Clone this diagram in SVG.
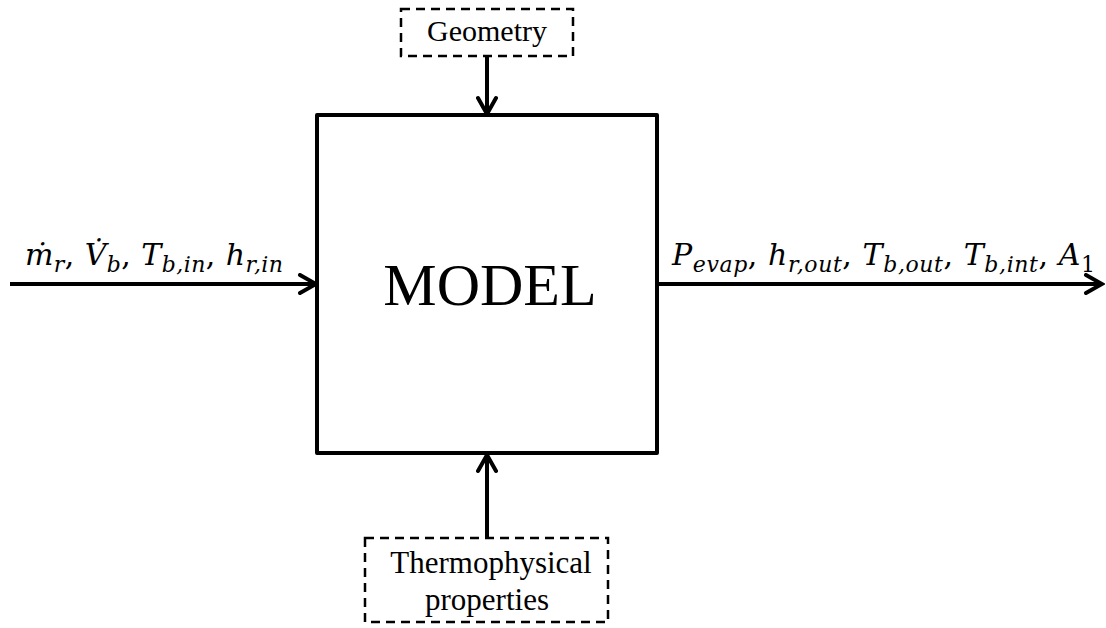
<svg xmlns="http://www.w3.org/2000/svg" width="1106" height="628" viewBox="0 0 1106 628">
<style>
.box{fill:#fff;stroke:#000;stroke-width:4;stroke-linejoin:round}
.dash{fill:#fff;stroke:#000;stroke-width:2.5;stroke-dasharray:9,6}
.lbl{font-family:"Liberation Serif","Times New Roman",serif;fill:#000}
.math{font-family:"DejaVu Serif","Liberation Serif",serif;font-style:italic;font-size:30px;fill:#000}
.sub{font-size:22px}
.up{font-style:normal}
.conn{stroke:#000;stroke-width:4;fill:none}
</style>
<defs>
<marker id="ah" markerUnits="userSpaceOnUse" viewBox="0 0 22 22" refX="19" refY="11" markerWidth="22" markerHeight="22" orient="auto">
<path d="M3,2 L19,11 L3,20" fill="none" stroke="#000" stroke-width="4" stroke-linecap="round" stroke-linejoin="miter"/>
</marker>
</defs>
<g id="connectors">
<line class="conn" x1="10" y1="284" x2="316" y2="284" marker-end="url(#ah)"/>
<line class="conn" x1="659" y1="284" x2="1102" y2="284" marker-end="url(#ah)"/>
<line class="conn" x1="487" y1="57" x2="487" y2="114" marker-end="url(#ah)"/>
<line class="conn" x1="487" y1="538" x2="487" y2="455" marker-end="url(#ah)"/>
</g>
<g id="model">
<rect class="box" x="317" y="115" width="340" height="338"/>
<text class="lbl" x="490" y="305" font-size="60" text-anchor="middle">MODEL</text>
</g>
<g id="geometry">
<rect class="dash" x="401" y="9" width="172" height="47"/>
<text class="lbl" x="487" y="41" font-size="30" text-anchor="middle">Geometry</text>
</g>
<g id="thermo">
<rect class="dash" x="365" y="538" width="243" height="84"/>
<text class="lbl" x="491" y="573" font-size="31" text-anchor="middle">Thermophysical</text>
<text class="lbl" x="487" y="610" font-size="31" text-anchor="middle">properties</text>
</g>
<g id="input-label">
<text class="math" x="25" y="265" textLength="258" lengthAdjust="spacing">ṁ<tspan class="sub" dy="7">r</tspan><tspan class="up" dy="-7">, </tspan>V̇<tspan class="sub" dy="7">b</tspan><tspan class="up" dy="-7">, </tspan>T<tspan class="sub" dy="7">b,in</tspan><tspan class="up" dy="-7">, </tspan>h<tspan class="sub" dy="7">r,in</tspan></text>
</g>
<g id="output-label">
<text class="math" x="672" y="265" textLength="423" lengthAdjust="spacing">P<tspan class="sub" dy="7">evap</tspan><tspan class="up" dy="-7">, </tspan>h<tspan class="sub" dy="7">r,out</tspan><tspan class="up" dy="-7">, </tspan>T<tspan class="sub" dy="7">b,out</tspan><tspan class="up" dy="-7">, </tspan>T<tspan class="sub" dy="7">b,int</tspan><tspan class="up" dy="-7">, </tspan>A<tspan class="sub up" dy="7">1</tspan></text>
</g>
</svg>
